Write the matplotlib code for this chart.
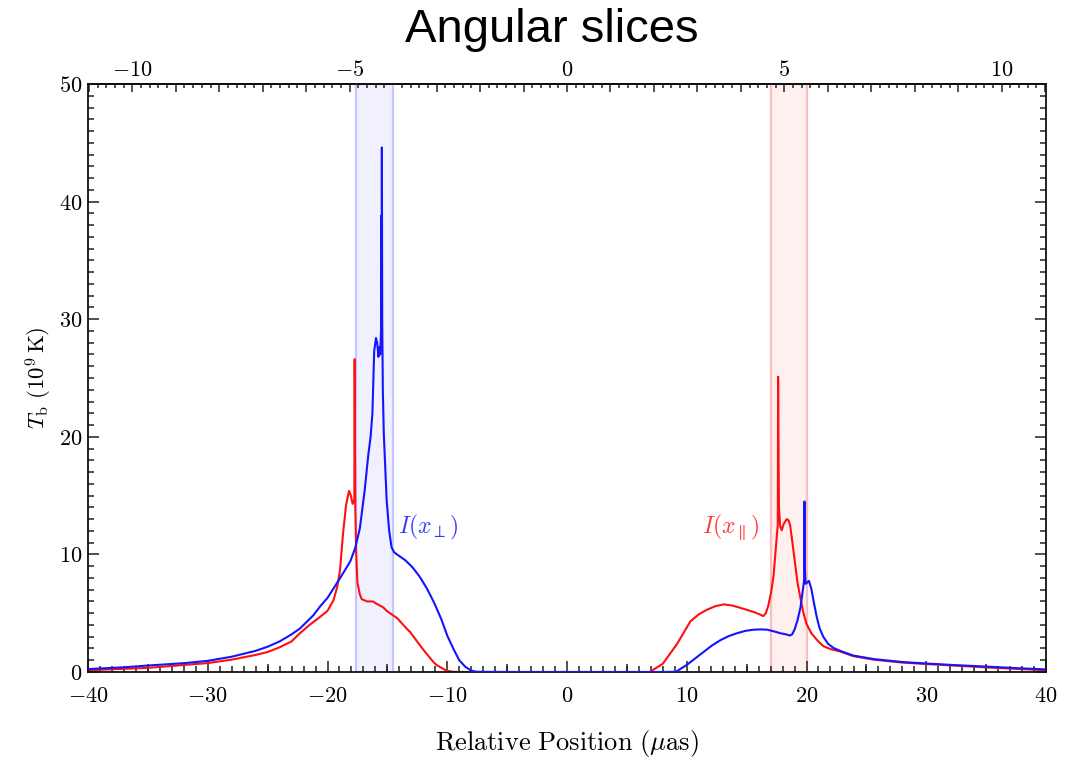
import numpy as np
import matplotlib
matplotlib.use("Agg")
import matplotlib.pyplot as plt
from matplotlib.ticker import MultipleLocator, FuncFormatter, FixedLocator, NullFormatter

plt.rcParams['mathtext.fontset'] = 'cm'

# ---------------- data ----------------
blue_x = [-40, -37, -35, -32, -30, -28, -26, -25, -24, -23, -22.3, -21.2, -20.6, -20.0, -19.0,
          -18.1, -17.7, -17.3, -16.9, -16.6, -16.4, -16.25, -16.1, -15.95, -15.85, -15.75, -15.68,
          -15.6, -15.53, -15.51, -15.48, -15.46, -15.43, -15.38, -15.3, -15.06, -14.85, -14.65,
          -14.45, -14.2, -13.5, -12.9, -12.3, -11.7, -11.1, -10.5, -10.0, -9.5, -9.0, -8.5, -8.0,
          -7.6, -5, 0, 5, 8, 9.1, 10.0, 10.7, 11.4, 12.1, 12.8, 13.5, 14.2, 14.9, 15.6, 16.2, 16.7,
          17.3, 17.8, 18.3, 18.6, 18.8, 19.0, 19.25, 19.5, 19.7, 19.8, 19.83, 19.86, 19.92, 20.05,
          20.2, 20.4, 20.6, 20.85, 21.1, 21.4, 21.8, 22.25, 22.8, 23.9, 25.6, 28, 30, 32.5, 35.2,
          37.5, 40]
blue_y = [0.25, 0.4, 0.55, 0.75, 0.95, 1.3, 1.8, 2.15, 2.6, 3.2, 3.7, 4.8, 5.6, 6.3, 7.9,
          9.4, 10.5, 12.2, 15.4, 18.4, 20.0, 22.0, 27.3, 28.4, 28.0, 26.8, 27.6,
          27.0, 29.0, 38.8, 30.0, 44.6, 30.0, 24.0, 20.3, 14.6, 12.0, 10.6,
          10.2, 10.0, 9.5, 8.9, 8.1, 7.1, 5.9, 4.5, 3.1, 2.0, 1.0, 0.45, 0.12,
          0.02, 0.0, 0.0, 0.0, 0.0, 0.02, 0.6, 1.15, 1.7, 2.25, 2.7, 3.05, 3.3, 3.5, 3.6, 3.62, 3.6,
          3.45, 3.3, 3.2, 3.1, 3.2, 3.6, 4.4, 5.5, 7.0, 7.8, 14.5, 9.0, 7.5, 7.6,
          7.75, 7.1, 6.0, 4.7, 3.7, 3.0, 2.4, 2.05, 1.8, 1.4, 1.1, 0.85, 0.72, 0.58, 0.45,
          0.33, 0.22]

red_x = [-40, -35, -30, -28, -26, -25, -24, -23, -22.3, -21.5, -20.6, -20.0, -19.5, -19.2,
         -18.96, -18.7, -18.45, -18.2, -18.05, -17.9, -17.76, -17.73, -17.71, -17.68, -17.6,
         -17.5, -17.3, -17.15, -16.7, -16.2, -15.9, -15.35, -15.06, -14.5, -14.2, -13.4, -13.1,
         -12.3, -12.0, -11.2, -10.9, -10.05, -9.5, -9.0, 0, 6.9, 8.0, 9.2, 10.3, 11.0, 11.7, 12.4,
         13.1, 13.8, 14.5, 15.6, 16.1, 16.4, 16.6, 16.8, 17.05, 17.25, 17.5, 17.6, 17.63, 17.66,
         17.7, 17.8, 17.93, 18.1, 18.35, 18.5, 18.63, 18.85, 19.05, 19.25, 19.47, 19.75, 20.0,
         20.4, 20.9, 21.4, 22.0, 22.8, 23.9, 25.6, 28, 30, 35.2, 40]
red_y = [0.15, 0.35, 0.76, 1.05, 1.45, 1.7, 2.1, 2.6, 3.3, 4.0, 4.7, 5.2, 6.1, 7.2,
         8.6, 11.8, 14.2, 15.4, 15.0, 14.3, 14.6, 26.6, 20.0, 14.0, 10.0,
         7.6, 6.6, 6.2, 6.0, 6.0, 5.8, 5.5, 5.2, 4.8, 4.6, 3.7, 3.4,
         2.3, 1.9, 0.9, 0.6, 0.1, 0.02, 0.0, 0.0, 0.0, 0.7, 2.4, 4.3, 4.9, 5.3, 5.6,
         5.75, 5.65, 5.45, 5.1, 4.9, 4.75, 5.0, 5.6, 6.8, 8.2, 11.3, 12.5, 25.1, 20.0,
         14.0, 12.4, 12.05, 12.6, 13.0, 12.9, 12.5, 10.8, 9.2, 7.6, 6.4, 5.0, 4.1,
         3.3, 2.7, 2.2, 1.95, 1.75, 1.35, 1.05, 0.8, 0.68, 0.38, 0.15]

blue_band = [-17.6, -14.55]
red_band = [17.05, 20.07]
mas_per_unit = 3.63   # top axis conversion

x_ticks_bottom = [-40, -30, -20, -10, 0, 10, 20, 30, 40]
y_ticks = [0, 10, 20, 30, 40, 50]
x_ticks_top_labeled = [-10, -5, 0, 5, 10]

# ---------------- figure ----------------
fig = plt.figure(figsize=(10.66, 7.63), dpi=100)
ax = fig.add_axes([88/1066, 1-672/763, (1046-88)/1066, (672-84)/763])

ax.axvspan(blue_band[0], blue_band[1], facecolor='#f0f0ff', edgecolor='none', zorder=0)
for b in blue_band:
    ax.axvline(b, color='#c6c6ff', lw=1.6, zorder=0.5)
ax.axvspan(red_band[0], red_band[1], facecolor='#fff0f0', edgecolor='none', zorder=0)
for b in red_band:
    ax.axvline(b, color='#ffbcbc', lw=1.6, zorder=0.5)

ax.plot(red_x, red_y, color='#ff1010', lw=1.5, zorder=2)
ax.plot(blue_x, blue_y, color='#1414ff', lw=1.5, zorder=3)

ax.set_xlim(-40, 40)
ax.set_ylim(0, 50)

fs = 16
fmt = FuncFormatter(lambda v, p: r'$%g$' % v)
ax.xaxis.set_major_locator(FixedLocator(x_ticks_bottom))
ax.xaxis.set_minor_locator(MultipleLocator(1))
ax.yaxis.set_major_locator(FixedLocator(y_ticks))
ax.yaxis.set_minor_locator(MultipleLocator(1))
ax.xaxis.set_major_formatter(fmt)
ax.yaxis.set_major_formatter(fmt)
ax.tick_params(which='both', direction='in', top=False, right=True, labelsize=fs, width=1.1,
               color='#222222')
ax.tick_params(which='major', length=8)
ax.tick_params(which='minor', length=4)
ax.tick_params(axis='x', which='major', pad=10)
ax.tick_params(axis='y', which='major', pad=4)
for s in ax.spines.values():
    s.set_linewidth(1.3)
    s.set_color('#111111')

# medium ticks at multiples of 5 on bottom axis
sec_b = ax.secondary_xaxis('bottom')
sec_b.xaxis.set_major_locator(FixedLocator([-35, -25, -15, -5, 5, 15, 25, 35]))
sec_b.xaxis.set_major_formatter(NullFormatter())
sec_b.tick_params(direction='in', length=6, width=1.1, color='#222222')
sec_b.spines['bottom'].set_visible(False)

# top axis
sec = ax.secondary_xaxis('top', functions=(lambda x: np.asarray(x) / mas_per_unit,
                                           lambda x: np.asarray(x) * mas_per_unit))
sec.xaxis.set_major_locator(MultipleLocator(1))
sec.xaxis.set_minor_locator(MultipleLocator(0.2))
sec.xaxis.set_major_formatter(FuncFormatter(
    lambda v, p: (r'$%g$' % round(v)) if round(v) in x_ticks_top_labeled and abs(v - round(v)) < 1e-6 else ''))
sec.tick_params(which='both', direction='in', labelsize=fs, width=1.1, color='#222222')
sec.tick_params(which='major', length=6, pad=3)
sec.tick_params(which='minor', length=3)
sec.spines['top'].set_linewidth(1.3)

ax.set_xlabel(r'$\mathrm{Relative\ Position\ (}\mu\mathrm{as)}$', fontsize=19, labelpad=16)
ax.set_ylabel(r'$T_{\mathrm{b}}\ (10^9\,\mathrm{K})$', fontsize=16.5, labelpad=4)

ax.text(-14.1, 12.3, r'$I(x_{\perp})$', color='#3a3aff', fontsize=17, ha='left', va='center')
ax.text(16.1, 12.3, r'$I(x_{\parallel})$', color='#ff3a3a', fontsize=17, ha='right', va='center')

fig.text(552/1066, 1-30/763, 'Angular slices', family='Liberation Sans', fontsize=34,
         ha='center', va='center')

fig.savefig('out.png', dpi=100)
